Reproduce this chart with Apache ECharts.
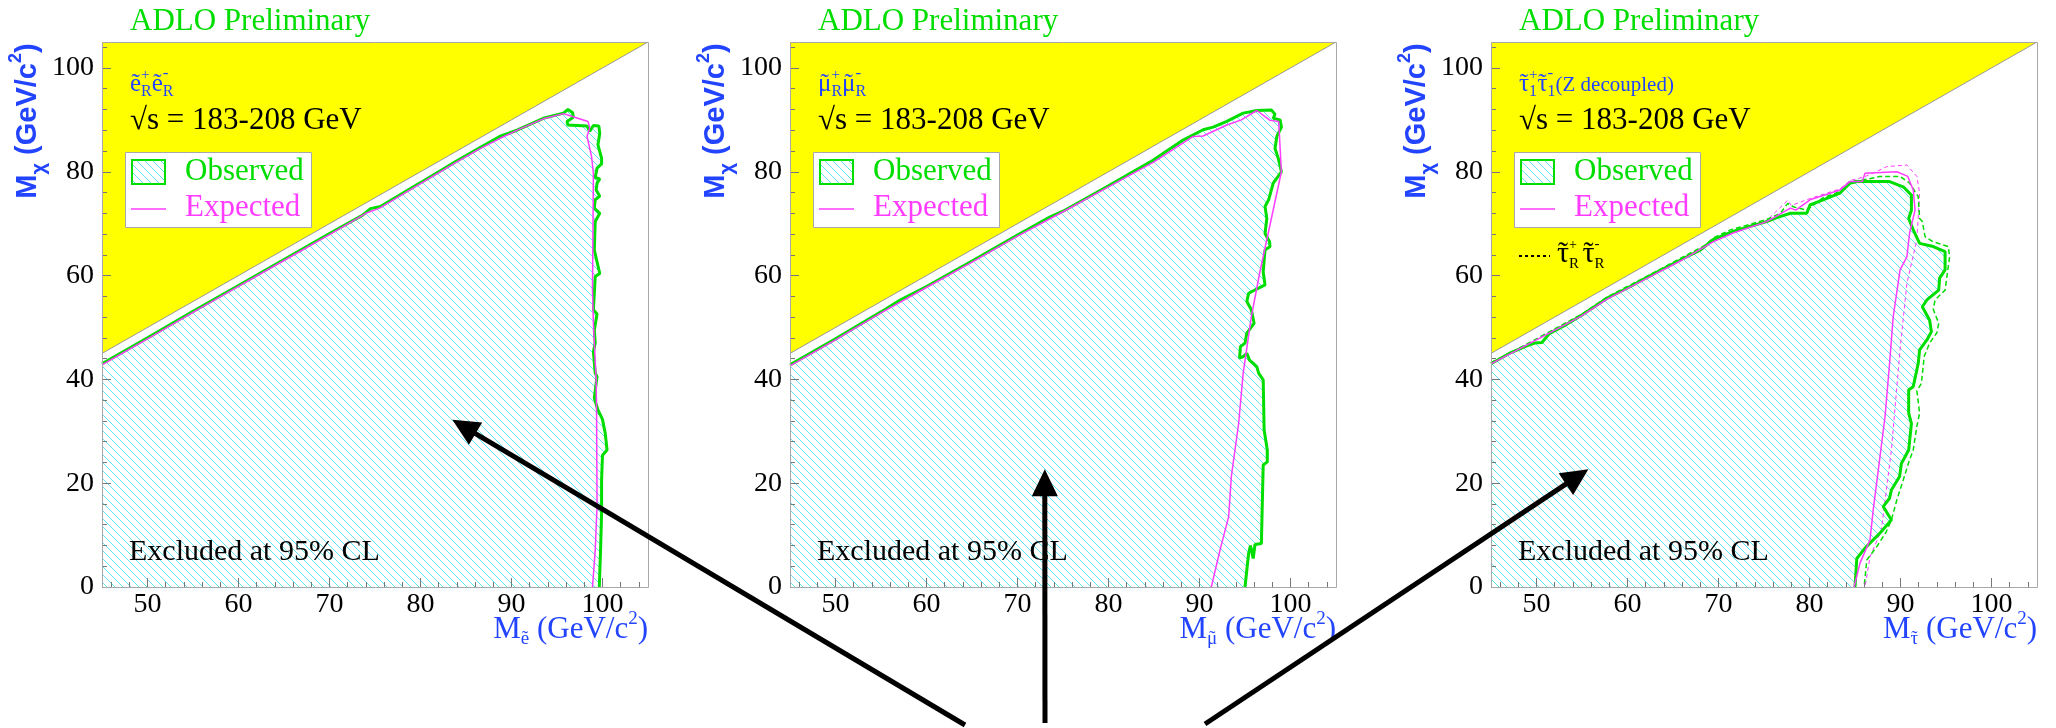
<!DOCTYPE html>
<html>
<head>
<meta charset="utf-8">
<script src="https://cdn.jsdelivr.net/npm/echarts@6/dist/echarts.min.js"></script>
<style>
  html, body { margin: 0; padding: 0; background: #ffffff; }
  #chart { width: 2056px; height: 728px; }
</style>
</head>
<body>
<div id="chart"></div>
<script>
// ---------------- data (GeV/c^2) ----------------
const X_TICKS = [50, 60, 70, 80, 90, 100];
const X_MINOR = [46, 48, 52, 54, 56, 58, 62, 64, 66, 68, 72, 74, 76, 78, 82, 84, 86, 88, 92, 94, 96, 98, 102, 104];
const Y_TICKS = [0, 20, 40, 60, 80, 100];
const Y_MINOR = [4, 8, 12, 16, 24, 28, 32, 36, 44, 48, 52, 56, 64, 68, 72, 76, 84, 88, 92, 96, 104];

// M_chi = M_slepton line and the forbidden corner above it
const KINEMATIC_LIMIT = [[45, 45], [105, 105]];
const FORBIDDEN = [[45, 45], [45, 105], [105, 105]];

// selectron
const SELECTRON_OBS = [[45,43.0],[50,48.0],[55,53.1],[60,58.1],[65,63.1],[70,68.1],[73.6,71.6],[74.5,72.9],[75.6,73.3],[80,77.9],[84,82.1],[86.5,84.6],[88.7,86.8],[90.6,88.0],[93.5,90.3],[95.7,91.3],[96.2,92.0],[96.7,91.4],[96.8,90.5],[96.1,89.7],[96.2,89.0],[98.3,88.8],[98.6,87.8],[99.0,88.9],[99.6,88.8],[99.7,87.4],[99.5,85.2],[99.9,82.6],[99.9,81.5],[99.4,80.7],[99.2,78.9],[99.7,78.6],[99.4,77.8],[99.3,76.5],[99.7,75.3],[99.2,74.6],[99.1,73.0],[99.7,72.0],[99.2,70.4],[99.1,64.9],[99.7,60.4],[99.2,59.8],[99.0,53.4],[99.4,52.6],[99.1,49.5],[99.2,47.0],[99.0,45.3],[99.2,41.2],[99.4,40.5],[99.35,39.9],[99.1,36.4],[99.5,34.1],[100.0,32.3],[100.3,29.6],[100.5,26.4],[100.0,25.4],[99.9,20.6],[99.9,14.2],[99.8,7.8],[99.65,0]];
const SELECTRON_EXP = [[45,42.8],[50,47.8],[55,52.9],[60,57.9],[65,62.9],[70,67.9],[74,72.0],[75.5,73.0],[80,77.7],[84,81.9],[86.5,84.4],[88.7,86.4],[91,88.3],[93.5,90.2],[95.7,91.2],[96.6,90.7],[98.4,89.7],[98.6,88.5],[98.3,86.8],[98.8,82.9],[99.0,79.7],[98.9,57.2],[99.0,50.8],[99.3,40.0],[99.35,33.4],[99.4,15.5],[99.2,7.0],[98.9,0]];

// smuon
const SMUON_OBS = [[45,42.8],[50,47.8],[55,53.0],[57.1,55.3],[60,57.9],[65,62.8],[70,67.8],[73.6,71.3],[75,72.4],[80,77.3],[84.6,81.9],[88.2,86.1],[90.4,88.1],[91.5,88.6],[93.0,89.7],[94.8,91.3],[96.3,91.8],[97.9,91.9],[98.3,91.1],[98.1,90.3],[98.85,90.0],[99.0,88.6],[98.5,86.8],[98.3,84.5],[98.7,82.3],[99.0,80.0],[98.1,77.8],[97.6,74.6],[97.2,73.3],[97.4,71.0],[97.2,68.1],[97.7,66.5],[97.75,65.6],[97.2,64.9],[97.0,60.7],[97.2,58.2],[95.4,56.6],[95.2,55.0],[95.7,53.4],[96.0,50.8],[95.2,48.9],[95.0,47.0],[94.5,46.3],[94.4,44.1],[94.8,44.4],[95.2,45.0],[95.5,43.7],[95.9,43.1],[96.3,42.4],[96.5,41.2],[97.0,39.9],[97.1,30.3],[97.45,26.4],[97.45,24.1],[97.0,23.5],[96.8,8.4],[96.1,8.2],[95.9,5.5],[95.6,8.0],[95.4,6.5],[95.0,0]];
const SMUON_EXP = [[45,42.6],[50,47.6],[55,52.8],[60,57.7],[65,62.6],[70,67.6],[75,72.3],[80,77.1],[85,81.9],[89.3,86.8],[90.4,86.9],[93.0,89.0],[94.6,90.0],[96.3,91.8],[97.75,89.9],[98.7,89.7],[99.0,80.0],[96.6,60.4],[95.7,52.1],[94.8,41.2],[94.3,31.5],[93.5,21.3],[93.2,13.5],[92.25,7.1],[91.3,0]];

// stau_1 (Z decoupled) and stau_R
const STAU_OBS = [[45,43.0],[47,45.0],[49,46.5],[49.8,47.0],[50.6,47.1],[51.4,48.8],[53,50.3],[55,52.4],[57.7,55.6],[60,57.6],[62.5,60.0],[65.8,63.0],[68,64.9],[69.4,66.9],[71.6,68.5],[73.5,69.5],[75.3,70.4],[76.5,71.2],[77.9,72.0],[79.7,72.0],[80.05,73.6],[81.5,74.6],[83.35,75.9],[84.45,77.8],[85.2,78.1],[86.6,78.1],[88.8,78.1],[90.3,77.1],[91.2,75.5],[91.2,72.6],[90.9,71.0],[91.4,68.8],[92.1,66.2],[93.6,65.6],[94.9,64.6],[94.9,61.1],[94.3,59.5],[94.2,57.2],[92.9,55.3],[92.4,54.0],[93.2,51.4],[93.4,49.2],[92.9,47.6],[92.1,45.7],[91.95,43.1],[91.4,38.6],[90.9,38.0],[90.9,33.5],[91.2,31.5],[90.9,26.4],[90.1,23.8],[89.9,21.3],[89.0,18.7],[88.8,17.1],[88.1,15.5],[89.0,12.9],[87.7,10.3],[86.1,7.5],[85.2,5.5],[85.0,0]];
const STAU_EXP = [[45,43.0],[50,47.6],[55,52.3],[57.7,55.4],[62.5,59.8],[65.8,62.8],[69.4,66.5],[71.6,68.2],[75.3,70.4],[77.9,73.0],[78.5,72.6],[80.05,74.6],[83.35,76.5],[84.45,78.1],[85.8,78.1],[86.1,79.7],[86.3,80.0],[89.6,80.0],[90.8,79.1],[91.4,76.5],[91.6,72.6],[91.0,68.2],[90.7,63.6],[89.95,61.1],[89.2,52.1],[88.8,43.1],[88.3,32.8],[87.7,24.5],[87.0,14.8],[86.65,9.1],[85.55,4.6],[84.9,0]];
const STAUR_OBS = [[45,43.2],[50,47.8],[55,52.6],[57.7,55.8],[62.5,60.2],[65.8,63.3],[68.5,65.8],[69.5,67.3],[71.3,68.8],[73.5,69.9],[75.3,70.8],[76.8,72.0],[77.6,73.9],[78.3,73.2],[79.7,72.6],[81.5,75.0],[83.35,76.2],[84.45,78.1],[86.5,78.6],[87.7,79.1],[89.95,79.1],[91.0,77.8],[91.95,75.2],[92.1,71.0],[92.4,70.4],[92.7,67.5],[93.6,66.5],[95.25,65.6],[95.4,63.6],[95.25,61.7],[94.9,57.2],[93.8,55.3],[93.6,53.5],[94.2,50.8],[94.0,49.0],[93.2,47.0],[92.6,44.4],[92.3,39.2],[91.8,37.8],[92.1,33.5],[91.8,31.0],[91.4,26.4],[90.9,24.0],[90.3,20.6],[89.6,16.8],[89.0,12.9],[88.4,10.5],[87.4,7.8],[86.3,5.2],[86.0,0]];
const STAUR_EXP = [[45,43.0],[50,47.7],[55,52.4],[57.7,55.5],[62.5,60.0],[65.8,63.0],[69.5,66.8],[71.5,68.5],[75.3,70.6],[77.6,74.5],[78.0,73.5],[80,74.8],[83.35,76.7],[84.45,78.3],[86,79.0],[87.3,80.0],[88.5,81.0],[90.7,81.3],[91.8,79.1],[92.1,75.9],[91.8,66.9],[90.7,58.5],[89.95,45.7],[89.0,26.4],[87.9,11.0],[86.65,5.8],[86.1,0]];

// arrow tips, in each panel's own (M_slepton, M_chi) coordinates
const ARROW_TIPS = [[0, 83.5, 32.2], [1, 73.0, 22.7], [2, 55.7, 22.7]];

// ---------------- styling / layout ----------------
const SERIF = '"Liberation Serif", "DejaVu Serif", serif';
const SANS = '"Liberation Sans", Arial, sans-serif';
const GREEN = '#00dd00';
const MAGENTA = '#ff3cff';
const BLUE = '#2244ff';
const FRAME = '#a8a8a8';

const PANEL_LEFT = [102, 790, 1491];
const PANEL_TOP = 42, PANEL_W = 546, PANEL_H = 545;
const ARROW_TAILS = [[965, 725], [1045, 723], [1205, 724]];

const PANELS = [
  { obs: SELECTRON_OBS, exp: SELECTRON_EXP, sym: 'e', pair: 'R', extra: null },
  { obs: SMUON_OBS, exp: SMUON_EXP, sym: '\u03bc', pair: 'R', extra: null },
  { obs: STAU_OBS, exp: STAU_EXP, sym: '\u03c4', pair: '1', extra: '(Z decoupled)',
    obsR: STAUR_OBS, expR: STAUR_EXP }
];

// cyan "\\" hatching used for the excluded region
function makeHatch() {
  const c = document.createElement('canvas');
  c.width = 8; c.height = 8;
  const g = c.getContext('2d');
  g.strokeStyle = '#5fe4ec';
  g.lineWidth = 1;
  g.beginPath();
  for (let k = -1; k <= 1; k++) { g.moveTo(k * 8, 0); g.lineTo(k * 8 + 8, 8); }
  g.stroke();
  return c;
}
const HATCH = { image: makeHatch(), repeat: 'repeat' };

function polygonSeries(points, style, xi, z) {
  return {
    type: 'custom', xAxisIndex: xi, yAxisIndex: xi, z: z, silent: true,
    data: [[points[0][0], points[0][1]]],
    renderItem: function (params, api) {
      return { type: 'polygon', shape: { points: points.map(p => api.coord(p)) }, style: style };
    }
  };
}
function lineSeries(data, xi, color, width, type, z) {
  return {
    type: 'line', xAxisIndex: xi, yAxisIndex: xi, data: data, z: z,
    symbol: 'none', silent: true, clip: true,
    lineStyle: { color: color, width: width, type: type || 'solid' }
  };
}

const grids = [], xAxes = [], yAxes = [], series = [];
PANELS.forEach((p, i) => {
  grids.push({ left: PANEL_LEFT[i], top: PANEL_TOP, width: PANEL_W, height: PANEL_H, show: false });
  const tickLine = { color: '#777', width: 1 };
  xAxes.push({
    gridIndex: i, type: 'value', min: 45, max: 105, position: 'bottom', z: 10,
    axisLine: { show: false }, splitLine: { show: false },
    axisTick: { show: true, inside: true, length: 9, lineStyle: tickLine, customValues: X_TICKS },
    axisLabel: { customValues: X_TICKS, margin: 4, color: '#000', fontSize: 28, fontFamily: SERIF }
  });
  xAxes.push({
    gridIndex: i, type: 'value', min: 45, max: 105, position: 'bottom', z: 10,
    axisLine: { show: false }, splitLine: { show: false },
    axisTick: { show: true, inside: true, length: 5, lineStyle: tickLine, customValues: X_MINOR },
    axisLabel: { show: false }
  });
  yAxes.push({
    gridIndex: i, type: 'value', min: 0, max: 105, position: 'left', z: 10,
    axisLine: { show: false }, splitLine: { show: false },
    axisTick: { show: true, inside: true, length: 9, lineStyle: tickLine, customValues: Y_TICKS },
    axisLabel: { customValues: Y_TICKS, margin: 8, color: '#000', fontSize: 28, fontFamily: SERIF }
  });
  yAxes.push({
    gridIndex: i, type: 'value', min: 0, max: 105, position: 'left', z: 10,
    axisLine: { show: false }, splitLine: { show: false },
    axisTick: { show: true, inside: true, length: 5, lineStyle: tickLine, customValues: Y_MINOR },
    axisLabel: { show: false }
  });
  const xi = 2 * i;
  series.push(polygonSeries(FORBIDDEN, { fill: '#ffff00' }, xi, 1));
  series.push(polygonSeries([[45, 0]].concat(p.obs), { fill: HATCH }, xi, 2));
  series.push(lineSeries(KINEMATIC_LIMIT, xi, '#999999', 1, 'solid', 3));
  if (p.obsR) {
    series.push(lineSeries(p.expR, xi, MAGENTA, 1, [4, 3], 4));
    series.push(lineSeries(p.obsR, xi, GREEN, 1.5, [5, 3], 4));
  }
  series.push(lineSeries(p.obs, xi, GREEN, 3, 'solid', 5));
  series.push(lineSeries(p.exp, xi, MAGENTA, 1.5, 'solid', 6));
});

const chart = echarts.init(document.getElementById('chart'), null, { renderer: 'canvas' });
chart.setOption({
  animation: false,
  backgroundColor: '#ffffff',
  grid: grids, xAxis: xAxes, yAxis: yAxes, series: series
});

// ---------------- annotations ----------------
const g = [];
const measureCtx = document.createElement('canvas').getContext('2d');
function textWidth(t, size, family) {
  measureCtx.font = size + 'px ' + family;
  return measureCtx.measureText(t).width;
}
function txt(x, y, text, size, color, extra) {
  return {
    type: 'text', x: x, y: y, z: 100, silent: true,
    style: Object.assign({ text: text, fontSize: size, fontFamily: SERIF, fill: color, verticalAlign: 'middle' }, extra || {})
  };
}
// Lays out a formula from pieces: {t, s: size, dy: vertical shift, tilde, stack (share x with previous piece)}
function formula(parts, x, y, color, alignRight) {
  let cursor = 0, prevStart = 0;
  const placed = parts.map(pt => {
    const w = textWidth(pt.t, pt.s, SERIF);
    const start = pt.stack ? prevStart : cursor;
    cursor = Math.max(cursor, start + w);
    prevStart = start;
    return { pt: pt, start: start, w: w };
  });
  const x0 = alignRight ? x - cursor : x;
  placed.forEach(({ pt, start, w }) => {
    const yy = y + (pt.dy || 0);
    g.push(txt(x0 + start, yy, pt.t, pt.s, color));
    if (pt.tilde) {
      g.push(txt(x0 + start + w / 2, yy + (pt.tdy || 0), '\u02dc', pt.s, color, { align: 'center' }));
    }
  });
}

PANELS.forEach((p, i) => {
  const L = PANEL_LEFT[i];
  // frame
  g.push({ type: 'rect', z: 90, silent: true,
    shape: { x: L + 0.5, y: PANEL_TOP + 0.5, width: PANEL_W, height: PANEL_H },
    style: { fill: null, stroke: FRAME, lineWidth: 1 } });
  g.push(txt(L + 28, 22, 'ADLO Preliminary', 31, GREEN));

  // produced pair
  const pair = [
    { t: p.sym, s: 25, tilde: true },
    { t: '+', s: 15, dy: -9 },
    { t: p.pair, s: 16, dy: 8, stack: true },
    { t: p.sym, s: 25, tilde: true },
    { t: '-', s: 17, dy: -10 },
    { t: p.pair, s: 16, dy: 8, stack: true }
  ];
  if (p.extra) pair.push({ t: p.extra, s: 21, dy: 1 });
  formula(pair, L + 28, 84, BLUE, false);

  g.push(txt(L + 28, 121, '\u221As = 183-208 GeV', 31, '#000'));
  // legend
  g.push({ type: 'rect', z: 95, silent: true, shape: { x: L + 23.5, y: 152.5, width: 186, height: 75 },
    style: { fill: '#ffffff', stroke: FRAME, lineWidth: 1 } });
  g.push({ type: 'rect', z: 96, silent: true, shape: { x: L + 30, y: 160, width: 33, height: 24 },
    style: { fill: HATCH, stroke: GREEN, lineWidth: 2 } });
  g.push(txt(L + 83, 172, 'Observed', 31, GREEN));
  g.push({ type: 'line', z: 96, silent: true, shape: { x1: L + 29, y1: 209, x2: L + 64, y2: 209 },
    style: { stroke: MAGENTA, lineWidth: 1.5 } });
  g.push(txt(L + 83, 208, 'Expected', 31, MAGENTA));
  if (p.obsR) {
    g.push({ type: 'line', z: 96, silent: true, shape: { x1: L + 28, y1: 256, x2: L + 59, y2: 256 },
      style: { stroke: '#000', lineWidth: 2, lineDash: [3, 3] } });
    formula([
      { t: '\u03c4', s: 30, tilde: true },
      { t: '+', s: 14, dy: -9 },
      { t: 'R', s: 15, dy: 10, stack: true },
      { t: ' ', s: 14 },
      { t: '\u03c4', s: 30, tilde: true },
      { t: '-', s: 15, dy: -10 },
      { t: 'R', s: 15, dy: 10, stack: true }
    ], L + 66, 254, '#000', false);
  }
  g.push(txt(L + 27, 552, 'Excluded at 95% CL', 30, '#000'));

  // axis titles
  formula([
    { t: 'M', s: 31 },
    { t: p.sym, s: 19, dy: 9, tilde: true },
    { t: ' (GeV/c', s: 31 },
    { t: '2', s: 19, dy: -11 },
    { t: ')', s: 31 }
  ], L + PANEL_W, 630, BLUE, true);

  const yName = txt(L - 74, 121, '{n|M}{s|\u03c7}{n| (GeV/c}{p|2}{n|)}', 29, BLUE, {
    align: 'center',
    rich: {
      n: { fontSize: 29, fontFamily: SANS, fontWeight: 'bold', fill: BLUE, lineHeight: 42 },
      s: { fontSize: 20, fontFamily: SANS, fontWeight: 'bold', fill: BLUE, lineHeight: 42, verticalAlign: 'bottom' },
      p: { fontSize: 18, fontFamily: SANS, fontWeight: 'bold', fill: BLUE, lineHeight: 42, verticalAlign: 'top' }
    }
  });
  yName.rotation = Math.PI / 2;
  g.push(yName);
});

// arrows pointing into the excluded regions
ARROW_TIPS.forEach(([gi, tx, ty], k) => {
  const tip = chart.convertToPixel({ xAxisIndex: 2 * gi, yAxisIndex: 2 * gi }, [tx, ty]);
  const tail = ARROW_TAILS[k];
  const dx = tip[0] - tail[0], dy = tip[1] - tail[1];
  const len = Math.sqrt(dx * dx + dy * dy);
  const ux = dx / len, uy = dy / len;
  const headL = 27, headW = 13;
  const bx = tip[0] - ux * headL, by = tip[1] - uy * headL;
  g.push({ type: 'line', z: 200, silent: true,
    shape: { x1: tail[0], y1: tail[1], x2: bx + ux * 4, y2: by + uy * 4 },
    style: { stroke: '#000', lineWidth: 5 } });
  g.push({ type: 'polygon', z: 200, silent: true,
    shape: { points: [tip, [bx - uy * headW, by + ux * headW], [bx + uy * headW, by - ux * headW]] },
    style: { fill: '#000' } });
});

chart.setOption({ graphic: g });
</script>
</body>
</html>
